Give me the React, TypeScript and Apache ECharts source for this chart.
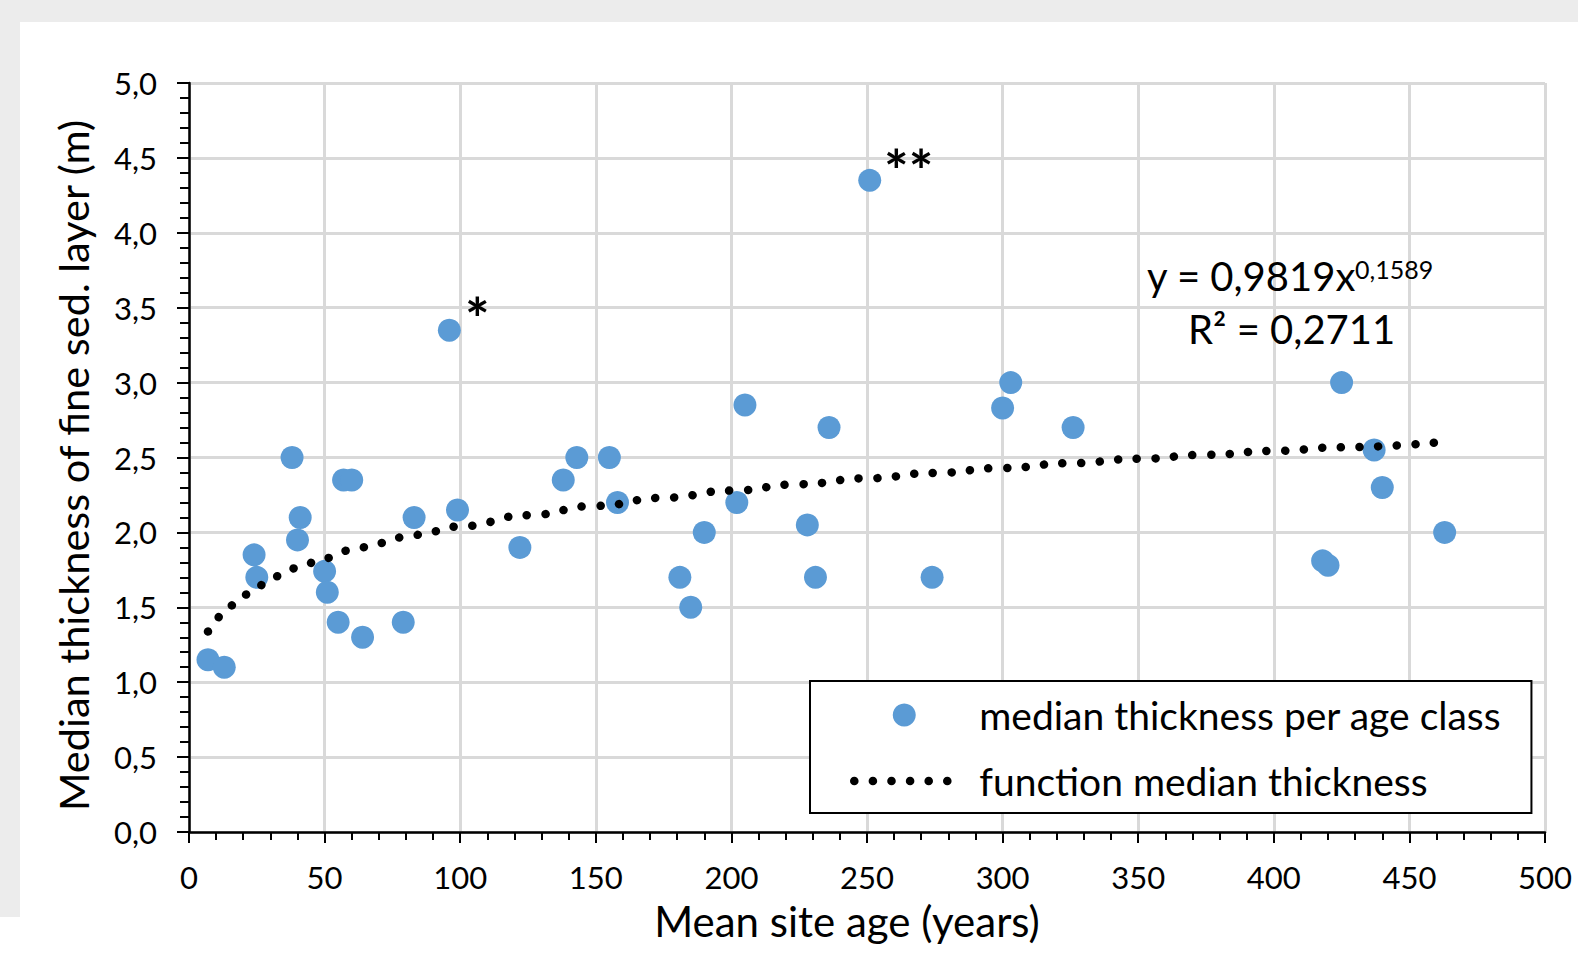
import React, { useEffect, useRef } from "react";
import * as echarts from "echarts";

// Scatter: mean site age (years) vs median thickness of fine sediment layer (m)
const ageYears = [7, 13, 24, 25, 38, 40, 41, 50, 51, 55, 57, 60, 64, 79, 83, 96, 99, 122, 138, 143, 155, 158, 181, 185, 190, 202, 205, 228, 231, 236, 251, 274, 300, 303, 326, 418, 420, 425, 437, 440, 463];
const medianThickness = [1.15, 1.1, 1.85, 1.7, 2.5, 1.95, 2.1, 1.74, 1.6, 1.4, 2.35, 2.35, 1.3, 1.4, 2.1, 3.35, 2.15, 1.9, 2.35, 2.5, 2.5, 2.2, 1.7, 1.5, 2.0, 2.2, 2.85, 2.05, 1.7, 2.7, 4.35, 1.7, 2.83, 3.0, 2.7, 1.81, 1.78, 3.0, 2.55, 2.3, 2.0];
// Outlier marks
const markedAges = [96, 251];
const markText = ["*", "**"];

// Power trend line y = 0,9819x^0,1589
const trendAge = [7, 8, 9, 10, 12, 15, 20, 25, 30, 35, 40, 50, 60, 70, 80, 90, 100, 125, 150, 175, 200, 225, 250, 275, 300, 325, 350, 375, 400, 425, 462];
const trendThickness = [1.338, 1.366, 1.392, 1.416, 1.457, 1.510, 1.581, 1.638, 1.686, 1.728, 1.765, 1.828, 1.882, 1.929, 1.970, 2.007, 2.041, 2.115, 2.177, 2.231, 2.279, 2.322, 2.361, 2.397, 2.430, 2.462, 2.491, 2.518, 2.544, 2.569, 2.603];

const xTicks = { min: 0, max: 500, interval: 50 };
const yTicks = { min: 0, max: 5, interval: 0.5 };

const equationMain = "y = 0,9819x";
const equationExp = "0,1589";
const rSquared = "R² = 0,2711";

const FONT = "Lato, 'Open Sans', sans-serif";

export default function App() {
  const ref = useRef<HTMLDivElement>(null);
  useEffect(() => {
    if (!ref.current) return;
    const chart = echarts.init(ref.current, undefined, { renderer: "svg" });
    const markOffsets = [[28, -13], [39, -11]];
    const scatterData = ageYears.map((a, i) => {
      const k = markedAges.indexOf(a);
      const item: any = { value: [a, medianThickness[i]] };
      if (k >= 0) {
        item.label = {
          show: true,
          formatter: markText[k],
          position: "inside",
          offset: markOffsets[k],
          fontSize: 58,
          fontWeight: "bold",
          color: "#000",
          fontFamily: FONT,
        };
      }
      return item;
    });
    const trendData = trendAge.map((a, i) => [a, trendThickness[i]]);
    const dotted = { width: 8.5, type: [0.1, 18.5], cap: "round", color: "#000" };
    const option: any = {
      animation: false,
      backgroundColor: "#ffffff",
      textStyle: { fontFamily: FONT },
      grid: { left: 189, right: 33, top: 83, bottom: 132, containLabel: false },
      graphic: [
        { type: "rect", shape: { x: 0, y: 0, width: 1578, height: 22 }, style: { fill: "#ececec" }, silent: true, z: -10 },
        { type: "rect", shape: { x: 0, y: 0, width: 20, height: 917 }, style: { fill: "#ececec" }, silent: true, z: -10 },
        {
          type: "text", left: 1147, top: 256, z: 100,
          style: { text: equationMain, fontSize: 40, fill: "#000", fontFamily: FONT },
        },
        {
          type: "text", left: 1355, top: 256, z: 100,
          style: { text: equationExp, fontSize: 25, fill: "#000", fontFamily: FONT },
        },
        {
          type: "text", left: 1188, top: 309, z: 100,
          style: { text: rSquared, fontSize: 40, fill: "#000", fontFamily: FONT },
        },
      ],
      legend: {
        left: 810,
        top: 681,
        orient: "vertical",
        backgroundColor: "#ffffff",
        borderColor: "#000",
        borderWidth: 2,
        borderRadius: 0,
        padding: [14, 30, 12, 40],
        itemWidth: 100,
        itemHeight: 23,
        itemGap: 26,
        textStyle: { fontSize: 39, color: "#000", fontFamily: FONT, lineHeight: 40, padding: [0, 0, 0, 20] },
        lineStyle: dotted,
        data: [
          { name: "median thickness per age class", icon: "circle" },
          { name: "function median thickness", itemStyle: { color: "rgba(0,0,0,0)", borderWidth: 0, opacity: 0 } },
        ],
      },
      xAxis: {
        type: "value",
        min: xTicks.min,
        max: xTicks.max,
        interval: xTicks.interval,
        name: "Mean site age (years)",
        nameLocation: "middle",
        nameGap: 68,
        nameTextStyle: { fontSize: 42, color: "#000", fontFamily: FONT, padding: [0, 40, 0, 0] },
        axisLine: { show: true, onZero: false, lineStyle: { color: "#000", width: 2.5 } },
        axisTick: { show: true, length: 11, lineStyle: { color: "#000", width: 2 } },
        minorTick: { show: true, splitNumber: 5, length: 8, lineStyle: { color: "#000", width: 2 } },
        splitLine: { show: true, lineStyle: { color: "#d9d9d9", width: 3 } },
        axisLabel: { fontSize: 31, color: "#000", margin: 29, fontFamily: FONT },
      },
      yAxis: {
        type: "value",
        min: yTicks.min,
        max: yTicks.max,
        interval: yTicks.interval,
        name: "Median thickness of fine sed. layer (m)",
        nameLocation: "middle",
        nameGap: 95,
        nameTextStyle: { fontSize: 41.5, color: "#000", fontFamily: FONT, padding: [0, 16, 0, 0] },
        axisLine: { show: true, onZero: false, lineStyle: { color: "#000", width: 2.5 } },
        axisTick: { show: true, length: 12, lineStyle: { color: "#000", width: 2 } },
        minorTick: { show: true, splitNumber: 5, length: 9, lineStyle: { color: "#000", width: 2 } },
        splitLine: { show: true, lineStyle: { color: "#d9d9d9", width: 3 } },
        axisLabel: {
          fontSize: 31, color: "#000", margin: 32, fontFamily: FONT,
          formatter: (v: number) => v.toFixed(1).replace(".", ","),
        },
      },
      series: [
        {
          name: "median thickness per age class",
          type: "scatter",
          symbol: "circle",
          symbolSize: 23,
          itemStyle: { color: "#5b9bd5", opacity: 1 },
          data: scatterData,
          z: 3,
        },
        {
          name: "function median thickness",
          type: "line",
          symbol: "none",
          showSymbol: false,
          smooth: true,
          smoothMonotone: "x",
          itemStyle: { color: "#000" },
          lineStyle: dotted,
          data: trendData,
          z: 4,
        },
      ],
    };
    chart.setOption(option);
    return () => chart.dispose();
  }, []);
  return (
    <div
      ref={ref}
      style={{ position: "absolute", left: 0, top: 0, width: 1578, height: 964 }}
    />
  );
}
